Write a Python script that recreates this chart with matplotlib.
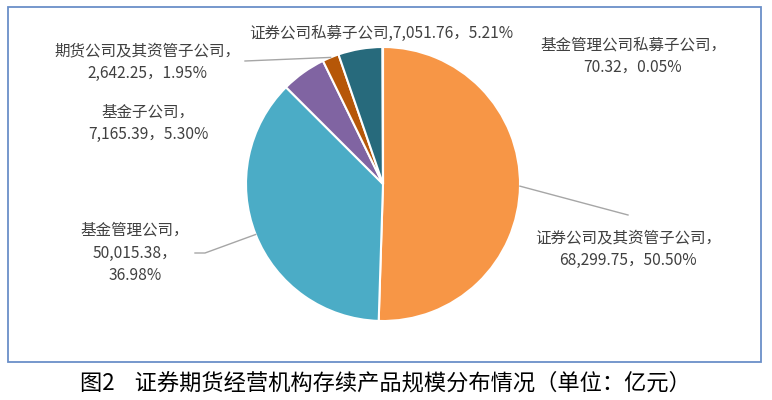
import matplotlib.pyplot as plt
import numpy as np
from matplotlib.patches import Rectangle

plt.rcParams['font.family'] = ['Noto Sans CJK SC', 'DejaVu Sans']

# clockwise from 12 o'clock
names = ["证券公司及其资管子公司", "基金管理公司", "基金子公司",
         "期货公司及其资管子公司", "证券公司私募子公司", "基金管理公司私募子公司"]
values = [68299.75, 50015.38, 7165.39, 2642.25, 7051.76, 70.32]
shares = ["50.50%", "36.98%", "5.30%", "1.95%", "5.21%", "0.05%"]
colors = ["#F79646", "#4BACC6", "#8064A2", "#B65708", "#276A7C", "#9BBB59"]

caption = "图2    证券期货经营机构存续产品规模分布情况（单位：亿元）"

W, H = 772, 400
CX, CY, R = 383, H - 184, 137

fig = plt.figure(figsize=(W / 100, H / 100), dpi=100)
ax = fig.add_axes([0, 0, 1, 1])

wedges, _ = ax.pie(values, colors=colors, startangle=90, counterclock=False,
                   center=(CX, CY), radius=R,
                   wedgeprops=dict(edgecolor="white", linewidth=1.5))
ax.set_xlim(0, W)
ax.set_ylim(0, H)
ax.set_aspect("equal")
ax.axis("off")

# frame around the chart
ax.add_patch(Rectangle((8, H - 362), 753, 355, fill=False,
                       edgecolor="#6A8FC8", linewidth=1.3))


def fmt(v):
    return f"{v:,.2f}"


txt = dict(fontsize=11.2, color="#404040", ha="center", va="center",
           linespacing=1.45)

# label text, its centre, and the leader line bend points (pixel coords, y from top)
labels = [
    (f"{names[0]}，\n{fmt(values[0])}，{shares[0]}", (628, 249), [(628, 215)]),
    (f"{names[1]}，\n{fmt(values[1])}，\n{shares[1]}", (135, 253), [(195, 253), (205, 253)]),
    (f"{names[2]}，\n{fmt(values[2])}，{shares[2]}", (148, 123), None),
    (f"{names[3]}，\n{fmt(values[3])}，{shares[3]}", (147, 62), [(245, 61)]),
    (f"{names[4]},{fmt(values[4])}，{shares[4]}", (381, 33), None),
    (f"{names[5]}，\n{fmt(values[5])}，{shares[5]}", (633, 56), None),
]

for w, (s, (lx, ly), leader) in zip(wedges, labels):
    ax.text(lx, H - ly, s, **txt)
    if leader is None:
        continue
    mid = np.deg2rad((w.theta1 + w.theta2) / 2)
    ex, ey = CX + R * np.cos(mid), CY + R * np.sin(mid)
    xs = [p[0] for p in leader] + [ex]
    ys = [H - p[1] for p in leader] + [ey]
    ax.plot(xs, ys, color="#A6A6A6", lw=1)

ax.text(385, H - 383, caption, fontsize=16, color="black",
        ha="center", va="center")

fig.savefig("out.png", dpi=100)
